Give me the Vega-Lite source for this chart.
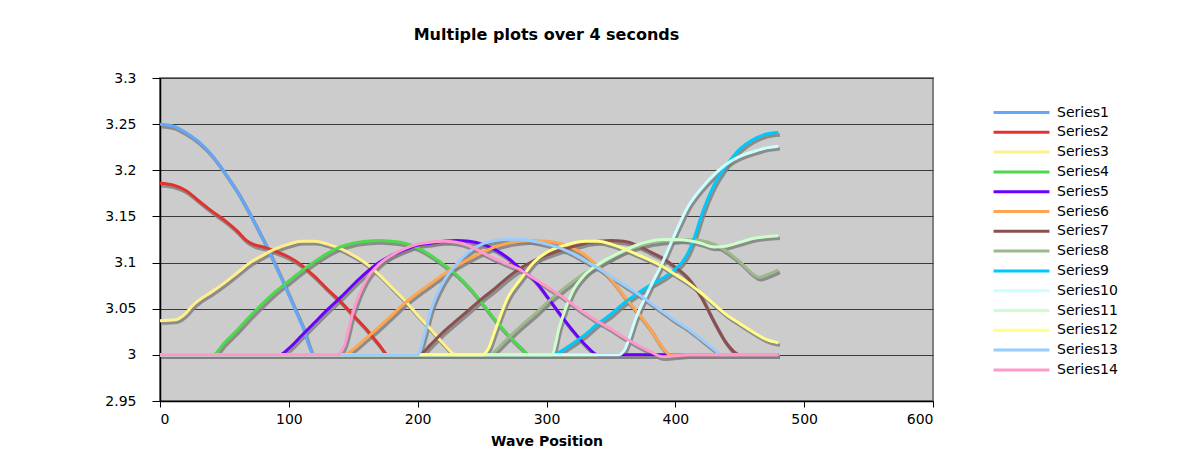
{
  "$schema": "https://vega.github.io/schema/vega-lite/v6.json",
  "width": 773,
  "height": 323,
  "padding": {"left": 5, "top": 27, "right": 5, "bottom": 5},
  "background": "white",
  "config": {
    "font": "DejaVu Sans",
    "view": {"fill": "#CCCCCC", "stroke": "#808080", "strokeWidth": 2}
  },
  "title": {
    "text": "Multiple plots over 4 seconds",
    "font": "DejaVu Sans",
    "fontSize": 16,
    "fontWeight": "bold",
    "color": "#000000",
    "anchor": "middle",
    "frame": "group",
    "offset": 28
  },
  "data": {
    "values": [
      {"series": "Series1", "pos": 0, "value": 3.25}, {"series": "Series1", "pos": 10, "value": 3.248}, {"series": "Series1", "pos": 20, "value": 3.241}, {"series": "Series1", "pos": 30, "value": 3.231}, {"series": "Series1", "pos": 40, "value": 3.217}, {"series": "Series1", "pos": 50, "value": 3.198}, {"series": "Series1", "pos": 60, "value": 3.177}, {"series": "Series1", "pos": 70, "value": 3.152}, {"series": "Series1", "pos": 80, "value": 3.125}, {"series": "Series1", "pos": 90, "value": 3.096}, {"series": "Series1", "pos": 100, "value": 3.065}, {"series": "Series1", "pos": 110, "value": 3.033}, {"series": "Series1", "pos": 120, "value": 3.0}, {"series": "Series1", "pos": 480, "value": 3.0},

      {"series": "Series2", "pos": 0, "value": 3.186}, {"series": "Series2", "pos": 10, "value": 3.184}, {"series": "Series2", "pos": 20, "value": 3.178}, {"series": "Series2", "pos": 30, "value": 3.167}, {"series": "Series2", "pos": 40, "value": 3.156}, {"series": "Series2", "pos": 50, "value": 3.146}, {"series": "Series2", "pos": 60, "value": 3.134}, {"series": "Series2", "pos": 67, "value": 3.124}, {"series": "Series2", "pos": 72, "value": 3.12}, {"series": "Series2", "pos": 80, "value": 3.117}, {"series": "Series2", "pos": 90, "value": 3.112}, {"series": "Series2", "pos": 100, "value": 3.106}, {"series": "Series2", "pos": 110, "value": 3.097}, {"series": "Series2", "pos": 120, "value": 3.085}, {"series": "Series2", "pos": 130, "value": 3.071}, {"series": "Series2", "pos": 140, "value": 3.058}, {"series": "Series2", "pos": 150, "value": 3.043}, {"series": "Series2", "pos": 160, "value": 3.028}, {"series": "Series2", "pos": 170, "value": 3.011}, {"series": "Series2", "pos": 177, "value": 3.0}, {"series": "Series2", "pos": 480, "value": 3.0},

      {"series": "Series3", "pos": 0, "value": 3.037}, {"series": "Series3", "pos": 12, "value": 3.038}, {"series": "Series3", "pos": 20, "value": 3.045}, {"series": "Series3", "pos": 25, "value": 3.053}, {"series": "Series3", "pos": 30, "value": 3.059}, {"series": "Series3", "pos": 40, "value": 3.068}, {"series": "Series3", "pos": 50, "value": 3.078}, {"series": "Series3", "pos": 60, "value": 3.089}, {"series": "Series3", "pos": 70, "value": 3.1}, {"series": "Series3", "pos": 80, "value": 3.108}, {"series": "Series3", "pos": 90, "value": 3.115}, {"series": "Series3", "pos": 100, "value": 3.12}, {"series": "Series3", "pos": 110, "value": 3.123}, {"series": "Series3", "pos": 120, "value": 3.123}, {"series": "Series3", "pos": 130, "value": 3.12}, {"series": "Series3", "pos": 140, "value": 3.115}, {"series": "Series3", "pos": 150, "value": 3.108}, {"series": "Series3", "pos": 160, "value": 3.099}, {"series": "Series3", "pos": 170, "value": 3.087}, {"series": "Series3", "pos": 180, "value": 3.073}, {"series": "Series3", "pos": 190, "value": 3.059}, {"series": "Series3", "pos": 200, "value": 3.043}, {"series": "Series3", "pos": 210, "value": 3.028}, {"series": "Series3", "pos": 220, "value": 3.012}, {"series": "Series3", "pos": 230, "value": 3.0}, {"series": "Series3", "pos": 480, "value": 3.0},

      {"series": "Series4", "pos": 0, "value": 3.0}, {"series": "Series4", "pos": 41, "value": 3.0}, {"series": "Series4", "pos": 50, "value": 3.013}, {"series": "Series4", "pos": 60, "value": 3.027}, {"series": "Series4", "pos": 70, "value": 3.042}, {"series": "Series4", "pos": 80, "value": 3.056}, {"series": "Series4", "pos": 90, "value": 3.069}, {"series": "Series4", "pos": 100, "value": 3.08}, {"series": "Series4", "pos": 110, "value": 3.091}, {"series": "Series4", "pos": 120, "value": 3.101}, {"series": "Series4", "pos": 130, "value": 3.11}, {"series": "Series4", "pos": 140, "value": 3.117}, {"series": "Series4", "pos": 150, "value": 3.121}, {"series": "Series4", "pos": 160, "value": 3.123}, {"series": "Series4", "pos": 170, "value": 3.124}, {"series": "Series4", "pos": 180, "value": 3.123}, {"series": "Series4", "pos": 190, "value": 3.121}, {"series": "Series4", "pos": 200, "value": 3.116}, {"series": "Series4", "pos": 210, "value": 3.108}, {"series": "Series4", "pos": 220, "value": 3.098}, {"series": "Series4", "pos": 230, "value": 3.087}, {"series": "Series4", "pos": 240, "value": 3.073}, {"series": "Series4", "pos": 250, "value": 3.056}, {"series": "Series4", "pos": 260, "value": 3.038}, {"series": "Series4", "pos": 270, "value": 3.022}, {"series": "Series4", "pos": 280, "value": 3.008}, {"series": "Series4", "pos": 287, "value": 3.0}, {"series": "Series4", "pos": 480, "value": 3.0},

      {"series": "Series5", "pos": 0, "value": 3.0}, {"series": "Series5", "pos": 93, "value": 3.0}, {"series": "Series5", "pos": 100, "value": 3.007}, {"series": "Series5", "pos": 110, "value": 3.021}, {"series": "Series5", "pos": 120, "value": 3.035}, {"series": "Series5", "pos": 130, "value": 3.049}, {"series": "Series5", "pos": 140, "value": 3.062}, {"series": "Series5", "pos": 150, "value": 3.076}, {"series": "Series5", "pos": 160, "value": 3.089}, {"series": "Series5", "pos": 170, "value": 3.1}, {"series": "Series5", "pos": 180, "value": 3.108}, {"series": "Series5", "pos": 190, "value": 3.114}, {"series": "Series5", "pos": 200, "value": 3.119}, {"series": "Series5", "pos": 210, "value": 3.121}, {"series": "Series5", "pos": 220, "value": 3.123}, {"series": "Series5", "pos": 230, "value": 3.124}, {"series": "Series5", "pos": 240, "value": 3.123}, {"series": "Series5", "pos": 250, "value": 3.12}, {"series": "Series5", "pos": 260, "value": 3.114}, {"series": "Series5", "pos": 270, "value": 3.105}, {"series": "Series5", "pos": 280, "value": 3.093}, {"series": "Series5", "pos": 290, "value": 3.082}, {"series": "Series5", "pos": 300, "value": 3.064}, {"series": "Series5", "pos": 310, "value": 3.045}, {"series": "Series5", "pos": 320, "value": 3.027}, {"series": "Series5", "pos": 330, "value": 3.011}, {"series": "Series5", "pos": 340, "value": 3.0}, {"series": "Series5", "pos": 480, "value": 3.0},

      {"series": "Series6", "pos": 0, "value": 3.0}, {"series": "Series6", "pos": 143, "value": 3.0}, {"series": "Series6", "pos": 150, "value": 3.006}, {"series": "Series6", "pos": 160, "value": 3.018}, {"series": "Series6", "pos": 170, "value": 3.03}, {"series": "Series6", "pos": 180, "value": 3.043}, {"series": "Series6", "pos": 190, "value": 3.056}, {"series": "Series6", "pos": 200, "value": 3.067}, {"series": "Series6", "pos": 210, "value": 3.077}, {"series": "Series6", "pos": 220, "value": 3.087}, {"series": "Series6", "pos": 230, "value": 3.096}, {"series": "Series6", "pos": 240, "value": 3.104}, {"series": "Series6", "pos": 250, "value": 3.111}, {"series": "Series6", "pos": 260, "value": 3.117}, {"series": "Series6", "pos": 270, "value": 3.121}, {"series": "Series6", "pos": 280, "value": 3.123}, {"series": "Series6", "pos": 290, "value": 3.124}, {"series": "Series6", "pos": 300, "value": 3.123}, {"series": "Series6", "pos": 310, "value": 3.121}, {"series": "Series6", "pos": 320, "value": 3.116}, {"series": "Series6", "pos": 330, "value": 3.108}, {"series": "Series6", "pos": 340, "value": 3.096}, {"series": "Series6", "pos": 350, "value": 3.082}, {"series": "Series6", "pos": 360, "value": 3.064}, {"series": "Series6", "pos": 370, "value": 3.047}, {"series": "Series6", "pos": 380, "value": 3.029}, {"series": "Series6", "pos": 390, "value": 3.008}, {"series": "Series6", "pos": 396, "value": 3.0}, {"series": "Series6", "pos": 480, "value": 3.0},

      {"series": "Series7", "pos": 0, "value": 3.0}, {"series": "Series7", "pos": 201, "value": 3.0}, {"series": "Series7", "pos": 210, "value": 3.011}, {"series": "Series7", "pos": 220, "value": 3.025}, {"series": "Series7", "pos": 230, "value": 3.037}, {"series": "Series7", "pos": 240, "value": 3.049}, {"series": "Series7", "pos": 250, "value": 3.061}, {"series": "Series7", "pos": 260, "value": 3.072}, {"series": "Series7", "pos": 270, "value": 3.084}, {"series": "Series7", "pos": 280, "value": 3.094}, {"series": "Series7", "pos": 290, "value": 3.102}, {"series": "Series7", "pos": 300, "value": 3.108}, {"series": "Series7", "pos": 310, "value": 3.113}, {"series": "Series7", "pos": 320, "value": 3.117}, {"series": "Series7", "pos": 330, "value": 3.121}, {"series": "Series7", "pos": 340, "value": 3.123}, {"series": "Series7", "pos": 350, "value": 3.124}, {"series": "Series7", "pos": 360, "value": 3.123}, {"series": "Series7", "pos": 370, "value": 3.119}, {"series": "Series7", "pos": 380, "value": 3.112}, {"series": "Series7", "pos": 390, "value": 3.105}, {"series": "Series7", "pos": 400, "value": 3.095}, {"series": "Series7", "pos": 410, "value": 3.083}, {"series": "Series7", "pos": 420, "value": 3.063}, {"series": "Series7", "pos": 430, "value": 3.036}, {"series": "Series7", "pos": 440, "value": 3.012}, {"series": "Series7", "pos": 450, "value": 3.0}, {"series": "Series7", "pos": 480, "value": 3.0},

      {"series": "Series8", "pos": 0, "value": 3.0}, {"series": "Series8", "pos": 257, "value": 3.0}, {"series": "Series8", "pos": 260, "value": 3.004}, {"series": "Series8", "pos": 270, "value": 3.018}, {"series": "Series8", "pos": 280, "value": 3.031}, {"series": "Series8", "pos": 290, "value": 3.043}, {"series": "Series8", "pos": 300, "value": 3.056}, {"series": "Series8", "pos": 310, "value": 3.068}, {"series": "Series8", "pos": 320, "value": 3.079}, {"series": "Series8", "pos": 330, "value": 3.089}, {"series": "Series8", "pos": 340, "value": 3.097}, {"series": "Series8", "pos": 350, "value": 3.105}, {"series": "Series8", "pos": 360, "value": 3.112}, {"series": "Series8", "pos": 370, "value": 3.117}, {"series": "Series8", "pos": 380, "value": 3.121}, {"series": "Series8", "pos": 390, "value": 3.123}, {"series": "Series8", "pos": 400, "value": 3.124}, {"series": "Series8", "pos": 410, "value": 3.125}, {"series": "Series8", "pos": 420, "value": 3.124}, {"series": "Series8", "pos": 430, "value": 3.12}, {"series": "Series8", "pos": 440, "value": 3.112}, {"series": "Series8", "pos": 450, "value": 3.101}, {"series": "Series8", "pos": 460, "value": 3.088}, {"series": "Series8", "pos": 465, "value": 3.084}, {"series": "Series8", "pos": 470, "value": 3.086}, {"series": "Series8", "pos": 480, "value": 3.092},

      {"series": "Series9", "pos": 0, "value": 3.0}, {"series": "Series9", "pos": 306, "value": 3.0}, {"series": "Series9", "pos": 310, "value": 3.003}, {"series": "Series9", "pos": 320, "value": 3.012}, {"series": "Series9", "pos": 330, "value": 3.022}, {"series": "Series9", "pos": 340, "value": 3.034}, {"series": "Series9", "pos": 350, "value": 3.044}, {"series": "Series9", "pos": 360, "value": 3.056}, {"series": "Series9", "pos": 370, "value": 3.066}, {"series": "Series9", "pos": 380, "value": 3.075}, {"series": "Series9", "pos": 390, "value": 3.083}, {"series": "Series9", "pos": 400, "value": 3.093}, {"series": "Series9", "pos": 405, "value": 3.1}, {"series": "Series9", "pos": 410, "value": 3.111}, {"series": "Series9", "pos": 415, "value": 3.128}, {"series": "Series9", "pos": 420, "value": 3.15}, {"series": "Series9", "pos": 430, "value": 3.184}, {"series": "Series9", "pos": 440, "value": 3.206}, {"series": "Series9", "pos": 450, "value": 3.223}, {"series": "Series9", "pos": 460, "value": 3.233}, {"series": "Series9", "pos": 470, "value": 3.239}, {"series": "Series9", "pos": 480, "value": 3.241},

      {"series": "Series10", "pos": 0, "value": 3.0}, {"series": "Series10", "pos": 356, "value": 3.0}, {"series": "Series10", "pos": 360, "value": 3.004}, {"series": "Series10", "pos": 370, "value": 3.042}, {"series": "Series10", "pos": 380, "value": 3.072}, {"series": "Series10", "pos": 390, "value": 3.1}, {"series": "Series10", "pos": 400, "value": 3.132}, {"series": "Series10", "pos": 410, "value": 3.161}, {"series": "Series10", "pos": 420, "value": 3.18}, {"series": "Series10", "pos": 430, "value": 3.195}, {"series": "Series10", "pos": 440, "value": 3.207}, {"series": "Series10", "pos": 450, "value": 3.215}, {"series": "Series10", "pos": 460, "value": 3.22}, {"series": "Series10", "pos": 470, "value": 3.224}, {"series": "Series10", "pos": 480, "value": 3.226},

      {"series": "Series11", "pos": 0, "value": 3.0}, {"series": "Series11", "pos": 304, "value": 3.0}, {"series": "Series11", "pos": 310, "value": 3.03}, {"series": "Series11", "pos": 320, "value": 3.068}, {"series": "Series11", "pos": 330, "value": 3.087}, {"series": "Series11", "pos": 340, "value": 3.098}, {"series": "Series11", "pos": 350, "value": 3.106}, {"series": "Series11", "pos": 360, "value": 3.113}, {"series": "Series11", "pos": 370, "value": 3.119}, {"series": "Series11", "pos": 380, "value": 3.123}, {"series": "Series11", "pos": 390, "value": 3.125}, {"series": "Series11", "pos": 400, "value": 3.125}, {"series": "Series11", "pos": 410, "value": 3.124}, {"series": "Series11", "pos": 420, "value": 3.121}, {"series": "Series11", "pos": 430, "value": 3.117}, {"series": "Series11", "pos": 440, "value": 3.118}, {"series": "Series11", "pos": 450, "value": 3.122}, {"series": "Series11", "pos": 460, "value": 3.126}, {"series": "Series11", "pos": 470, "value": 3.128}, {"series": "Series11", "pos": 480, "value": 3.129},

      {"series": "Series12", "pos": 0, "value": 3.0}, {"series": "Series12", "pos": 250, "value": 3.0}, {"series": "Series12", "pos": 255, "value": 3.007}, {"series": "Series12", "pos": 260, "value": 3.026}, {"series": "Series12", "pos": 270, "value": 3.062}, {"series": "Series12", "pos": 280, "value": 3.082}, {"series": "Series12", "pos": 290, "value": 3.1}, {"series": "Series12", "pos": 300, "value": 3.111}, {"series": "Series12", "pos": 310, "value": 3.117}, {"series": "Series12", "pos": 320, "value": 3.121}, {"series": "Series12", "pos": 330, "value": 3.123}, {"series": "Series12", "pos": 340, "value": 3.123}, {"series": "Series12", "pos": 350, "value": 3.12}, {"series": "Series12", "pos": 360, "value": 3.115}, {"series": "Series12", "pos": 370, "value": 3.109}, {"series": "Series12", "pos": 380, "value": 3.103}, {"series": "Series12", "pos": 390, "value": 3.096}, {"series": "Series12", "pos": 400, "value": 3.087}, {"series": "Series12", "pos": 410, "value": 3.078}, {"series": "Series12", "pos": 420, "value": 3.067}, {"series": "Series12", "pos": 430, "value": 3.055}, {"series": "Series12", "pos": 440, "value": 3.043}, {"series": "Series12", "pos": 450, "value": 3.034}, {"series": "Series12", "pos": 460, "value": 3.025}, {"series": "Series12", "pos": 470, "value": 3.017}, {"series": "Series12", "pos": 480, "value": 3.013},

      {"series": "Series13", "pos": 0, "value": 3.0}, {"series": "Series13", "pos": 200, "value": 3.0}, {"series": "Series13", "pos": 205, "value": 3.02}, {"series": "Series13", "pos": 210, "value": 3.047}, {"series": "Series13", "pos": 220, "value": 3.079}, {"series": "Series13", "pos": 230, "value": 3.098}, {"series": "Series13", "pos": 240, "value": 3.112}, {"series": "Series13", "pos": 250, "value": 3.12}, {"series": "Series13", "pos": 260, "value": 3.124}, {"series": "Series13", "pos": 270, "value": 3.125}, {"series": "Series13", "pos": 280, "value": 3.125}, {"series": "Series13", "pos": 290, "value": 3.123}, {"series": "Series13", "pos": 300, "value": 3.12}, {"series": "Series13", "pos": 310, "value": 3.116}, {"series": "Series13", "pos": 320, "value": 3.11}, {"series": "Series13", "pos": 330, "value": 3.102}, {"series": "Series13", "pos": 340, "value": 3.094}, {"series": "Series13", "pos": 350, "value": 3.085}, {"series": "Series13", "pos": 360, "value": 3.076}, {"series": "Series13", "pos": 370, "value": 3.067}, {"series": "Series13", "pos": 380, "value": 3.057}, {"series": "Series13", "pos": 390, "value": 3.047}, {"series": "Series13", "pos": 400, "value": 3.037}, {"series": "Series13", "pos": 410, "value": 3.028}, {"series": "Series13", "pos": 420, "value": 3.017}, {"series": "Series13", "pos": 430, "value": 3.006}, {"series": "Series13", "pos": 436, "value": 3.0}, {"series": "Series13", "pos": 480, "value": 3.0},

      {"series": "Series14", "pos": 0, "value": 3.0}, {"series": "Series14", "pos": 138, "value": 3.0}, {"series": "Series14", "pos": 143, "value": 3.01}, {"series": "Series14", "pos": 150, "value": 3.047}, {"series": "Series14", "pos": 160, "value": 3.081}, {"series": "Series14", "pos": 170, "value": 3.098}, {"series": "Series14", "pos": 180, "value": 3.108}, {"series": "Series14", "pos": 190, "value": 3.115}, {"series": "Series14", "pos": 200, "value": 3.12}, {"series": "Series14", "pos": 210, "value": 3.122}, {"series": "Series14", "pos": 220, "value": 3.123}, {"series": "Series14", "pos": 230, "value": 3.122}, {"series": "Series14", "pos": 240, "value": 3.118}, {"series": "Series14", "pos": 250, "value": 3.111}, {"series": "Series14", "pos": 260, "value": 3.104}, {"series": "Series14", "pos": 270, "value": 3.098}, {"series": "Series14", "pos": 280, "value": 3.092}, {"series": "Series14", "pos": 290, "value": 3.083}, {"series": "Series14", "pos": 300, "value": 3.074}, {"series": "Series14", "pos": 310, "value": 3.065}, {"series": "Series14", "pos": 320, "value": 3.055}, {"series": "Series14", "pos": 330, "value": 3.045}, {"series": "Series14", "pos": 340, "value": 3.036}, {"series": "Series14", "pos": 350, "value": 3.028}, {"series": "Series14", "pos": 360, "value": 3.019}, {"series": "Series14", "pos": 370, "value": 3.011}, {"series": "Series14", "pos": 380, "value": 3.004}, {"series": "Series14", "pos": 390, "value": 2.998}, {"series": "Series14", "pos": 400, "value": 2.999}, {"series": "Series14", "pos": 410, "value": 3.0}, {"series": "Series14", "pos": 480, "value": 3.0}
    ]
  },
  "encoding": {
    "x": {
      "field": "pos",
      "type": "quantitative",
      "scale": {"domain": [0, 600], "nice": false},
      "axis": {
        "title": "Wave Position",
        "titleFont": "DejaVu Sans",
        "titleFontSize": 14,
        "titleFontWeight": "bold",
        "titleColor": "#000000",
        "titlePadding": 8,
        "values": [0, 100, 200, 300, 400, 500, 600],
        "format": "d",
        "labelFont": "DejaVu Sans",
        "labelFontSize": 14,
        "labelColor": "#000000",
        "labelPadding": 5,
        "tickColor": "#000000",
        "tickSize": 6,
        "domainColor": "#000000",
        "domainWidth": 1.5,
        "grid": false
      }
    },
    "y": {
      "field": "value",
      "type": "quantitative",
      "scale": {"domain": [2.95, 3.3], "nice": false, "zero": false},
      "axis": {
        "title": null,
        "values": [2.95, 3, 3.05, 3.1, 3.15, 3.2, 3.25, 3.3],
        "format": "~g",
        "labelFont": "DejaVu Sans",
        "labelFontSize": 14,
        "labelColor": "#000000",
        "labelPadding": 16,
        "tickColor": "#000000",
        "tickSize": 8,
        "domainColor": "#000000",
        "domainWidth": 1.5,
        "grid": true,
        "gridColor": "#3A3A3A",
        "gridWidth": 1,
        "minExtent": 155,
        "maxExtent": 155
      }
    }
  },
  "layer": [
    {
      "mark": {"type": "line", "interpolate": "monotone", "color": "#808080", "strokeWidth": 3.5, "opacity": 0.85, "xOffset": 1.5, "yOffset": 2.5},
      "encoding": {"detail": {"field": "series"}}
    },
    {
      "mark": {"type": "line", "interpolate": "monotone", "strokeWidth": 3},
      "encoding": {
        "color": {
          "field": "series",
          "type": "nominal",
          "scale": {
            "domain": ["Series1", "Series2", "Series3", "Series4", "Series5", "Series6", "Series7", "Series8", "Series9", "Series10", "Series11", "Series12", "Series13", "Series14"],
            "range": ["#64A6F8", "#E0332F", "#FFF08C", "#4CD94C", "#6A00FF", "#FFA54F", "#8C4F4F", "#9BB98A", "#00C8FA", "#CCFFFF", "#CCFFCC", "#FFFF88", "#99CCFF", "#FF99CC"]
          },
          "legend": {
            "title": null,
            "orient": "none",
            "legendX": 854,
            "legendY": 27,
            "padding": 0,
            "symbolType": "M-5,0H5",
            "symbolSize": 125,
            "symbolStrokeWidth": 3,
            "labelFont": "DejaVu Sans",
            "labelFontSize": 14,
            "labelColor": "#000000",
            "labelOffset": 28,
            "rowPadding": 4.8
          }
        }
      }
    }
  ]
}
